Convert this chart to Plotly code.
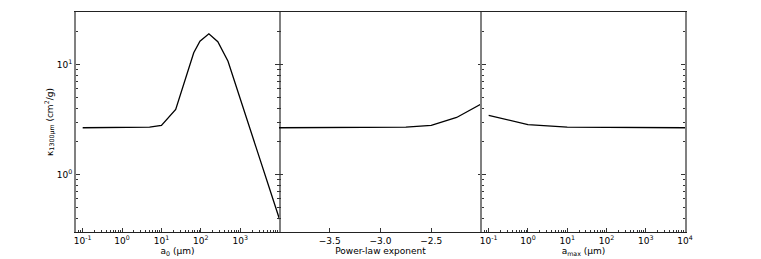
import plotly.graph_objects as go
import math

# ---- data ----
a0_um = [0.1, 1, 5, 10, 23, 66, 95, 160, 270, 490, 10000]
kappa_a0 = [2.66, 2.66, 2.69, 2.79, 3.9, 12.8, 16.3, 19.0, 16.1, 10.7, 0.39]

plaw_exp = [-4.0, -3.5, -3.0, -2.75, -2.5, -2.25, -2.0]
kappa_plaw = [2.66, 2.66, 2.67, 2.69, 2.79, 3.3, 4.42]

amax_um = [0.1, 1, 10, 100, 1000, 10000]
kappa_amax = [3.45, 2.84, 2.69, 2.67, 2.66, 2.66]

log_xticks_p1 = [0.1, 1, 10, 100, 1000]
log_xlabels_p1 = ["10<sup>-1</sup>", "10<sup>0</sup>", "10<sup>1</sup>", "10<sup>2</sup>", "10<sup>3</sup>"]
log_xticks_p3 = [0.1, 1, 10, 100, 1000, 10000]
log_xlabels_p3 = ["10<sup>-1</sup>", "10<sup>0</sup>", "10<sup>1</sup>", "10<sup>2</sup>", "10<sup>3</sup>", "10<sup>4</sup>"]
lin_xticks_p2 = [-3.5, -3.0, -2.5]
lin_xlabels_p2 = ["\u22123.5", "\u22123.0", "\u22122.5"]
yticks = [1, 10]
ylabels = ["10<sup>0</sup>", "10<sup>1</sup>"]

FONT = "DejaVu Sans"
XCOL = "#222222"
YCOL = "#808080"

# page body has an 8px margin: the figure is placed at (8, 8)
BODY = 8
W, H = 761 - BODY, 259 - BODY
ML, MT = 76 - BODY, 12 - BODY
PW, PH = 609, 220


def minor_log(lo, hi):
    vals = []
    for e in range(int(math.floor(lo)) - 1, int(math.ceil(hi)) + 1):
        for m in range(2, 10):
            v = m * 10 ** e
            if 10 ** lo <= v <= 10 ** hi:
                vals.append(v)
    return vals


fig = go.Figure()
fig.add_trace(go.Scatter(x=a0_um, y=kappa_a0, mode="lines", line=dict(color="black", width=1.3),
                         xaxis="x", yaxis="y", showlegend=False))
fig.add_trace(go.Scatter(x=plaw_exp, y=kappa_plaw, mode="lines", line=dict(color="black", width=1.3),
                         xaxis="x2", yaxis="y2", showlegend=False))
fig.add_trace(go.Scatter(x=amax_um, y=kappa_amax, mode="lines", line=dict(color="black", width=1.3),
                         xaxis="x3", yaxis="y3", showlegend=False))

ylo, yhi = math.log10(0.3), math.log10(30)
xlo, xhi = -1.17, 4.0

common_x = dict(showline=True, mirror=True, linecolor=XCOL, linewidth=1.2, ticks="inside",
                ticklen=4, tickcolor="#333", showgrid=False, zeroline=False, automargin=False,
                tickfont=dict(family=FONT, size=9, color="black"),
                title_font=dict(family=FONT, size=9, color="black"), title_standoff=1)
common_y = dict(type="log", range=[ylo, yhi], mirror="ticks", linecolor=YCOL,
                linewidth=2, ticks="inside", ticklen=4, tickcolor="#333", showgrid=False,
                zeroline=False, tickmode="array", tickvals=yticks, automargin=False,
                minor=dict(tickmode="array", tickvals=minor_log(ylo, yhi), ticks="inside", ticklen=2,
                           tickcolor="#333", showgrid=False),
                tickfont=dict(family=FONT, size=9, color="black"))

fig.update_layout(
    width=W, height=H,
    margin=dict(l=ML, r=W - ML - PW, t=MT, b=H - MT - PH),
    paper_bgcolor="white", plot_bgcolor="white",
    xaxis=dict(domain=[0, 1/3], type="log", range=[xlo, 3.985], tickmode="array",
               tickvals=log_xticks_p1, ticktext=log_xlabels_p1,
               minor=dict(tickmode="array", tickvals=minor_log(xlo, 3.985), ticks="inside", ticklen=2,
                          tickcolor="#333", showgrid=False),
               title_text="a<sub>0</sub> (\u03bcm)", anchor="y", **common_x),
    xaxis2=dict(domain=[1/3, 2/3], range=[-4, -2], tickmode="array",
                tickvals=lin_xticks_p2, ticktext=lin_xlabels_p2,
                title_text="Power-law exponent", anchor="y2", **common_x),
    xaxis3=dict(domain=[2/3, 1], type="log", range=[xlo, xhi], tickmode="array",
                tickvals=log_xticks_p3, ticktext=log_xlabels_p3,
                minor=dict(tickmode="array", tickvals=minor_log(xlo, xhi), ticks="inside", ticklen=2,
                           tickcolor="#333", showgrid=False),
                title_text="a<sub>max</sub> (\u03bcm)", anchor="y3", **common_x),
    yaxis=dict(anchor="x", ticktext=ylabels, showline=True,
               title=dict(text="\u03ba<sub>1300\u03bcm</sub> (cm<sup>2</sup>/g)",
                          font=dict(family=FONT, size=9, color="black"), standoff=2),
               **common_y),
    yaxis2=dict(anchor="x2", showticklabels=False, ticktext=ylabels, showline=False, **common_y),
    yaxis3=dict(anchor="x3", showticklabels=False, ticktext=ylabels, showline=True, **common_y),
)

fig.write_html("out.html")
